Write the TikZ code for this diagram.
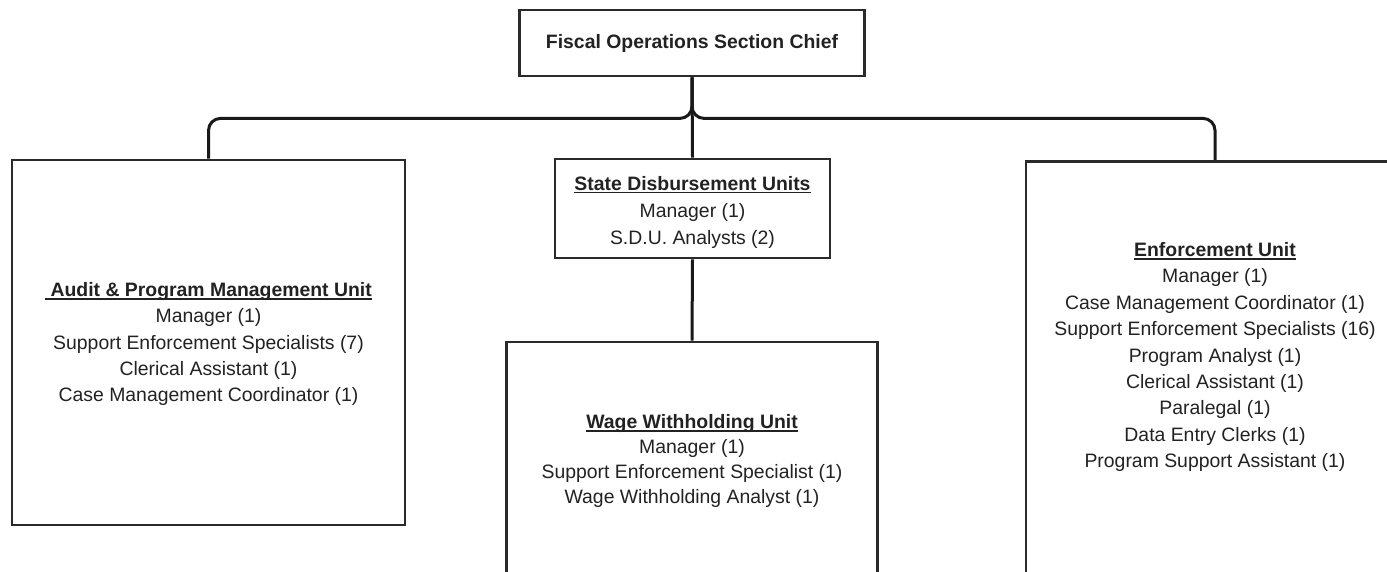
\documentclass[tikz,border=0pt]{standalone}
\usepackage{fontspec}
\setmainfont{Liberation Sans}
\definecolor{edge}{HTML}{2A2A2A}
\definecolor{ink}{HTML}{222222}
% bold heading with a thin rule just under the baseline
\newcommand{\unithead}[1]{\leavevmode\setbox0=\hbox{\bfseries #1}\rlap{\rule[-3.4pt]{\wd0}{1.8pt}}\box0}
% fixed-size, centred text block: width, height, space above, line pitch, lines
\newcommand{\unitbody}[5]{\begin{minipage}[t][#2][t]{#1}\centering
  \fontsize{19.4}{#4}\selectfont\vspace*{#3}#5\end{minipage}}
\tikzset{
  unit/.style={draw=edge, line width=2.8pt, inner sep=0pt, text=ink},
  link/.style={draw=black!90, line width=3pt},
}
\begin{document}
\begin{tikzpicture}[x=1pt,y=-1pt]
\useasboundingbox (0,0) rectangle (1387,571);
\clip (0,0) rectangle (1387,571);
\fill[white] (0,0) rectangle (1387,571);

% section chief
\node[unit, align=center, minimum width=345pt, minimum height=66pt,
  font=\fontsize{19.4}{26.4}\selectfont\bfseries] (chief) at (692,43)
  {Fiscal Operations Section Chief};

% units
\node[unit] (sdu) at (692.5,208.5)
  {\unitbody{275pt}{99pt}{17pt}{27pt}{\unithead{State Disbursement Units}\\
   Manager (1)\\ S.D.U. Analysts (2)}};

\node[unit] (audit) at (208.5,342.5)
  {\unitbody{393pt}{365pt}{122.5pt}{26.3pt}{\unithead{\ Audit \& Program Management Unit}\\
   Manager (1)\\ Support Enforcement Specialists (7)\\ Clerical Assistant (1)\\
   Case Management Coordinator (1)}};

\node[unit] (ww) at (692,463)
  {\unitbody{371pt}{242pt}{72.5pt}{25pt}{\unithead{Wage Withholding Unit}\\
   Manager (1)\\ Support Enforcement Specialist (1)\\ Wage Withholding Analyst (1)}};

\node[unit, anchor=north] (enf) at (1215,160)
  {\unitbody{378pt}{460pt}{81pt}{26.4pt}{\unithead{Enforcement Unit}\\ Manager (1)\\
   Case Management Coordinator (1)\\ Support Enforcement Specialists (16)\\
   Program Analyst (1)\\ Clerical Assistant (1)\\ Paralegal (1)\\
   Data Entry Clerks (1)\\ Program Support Assistant (1)}};

% reporting lines
\draw[link, rounded corners=12pt] (chief.south) -- ++(0,41) -| (audit.north);
\draw[link, rounded corners=12pt] (chief.south) -- ++(0,41) -| (enf.north);
\draw[link] (chief.south) -- (sdu.north);
\draw[link] (sdu.south) -- (ww.north);
\end{tikzpicture}
\end{document}
